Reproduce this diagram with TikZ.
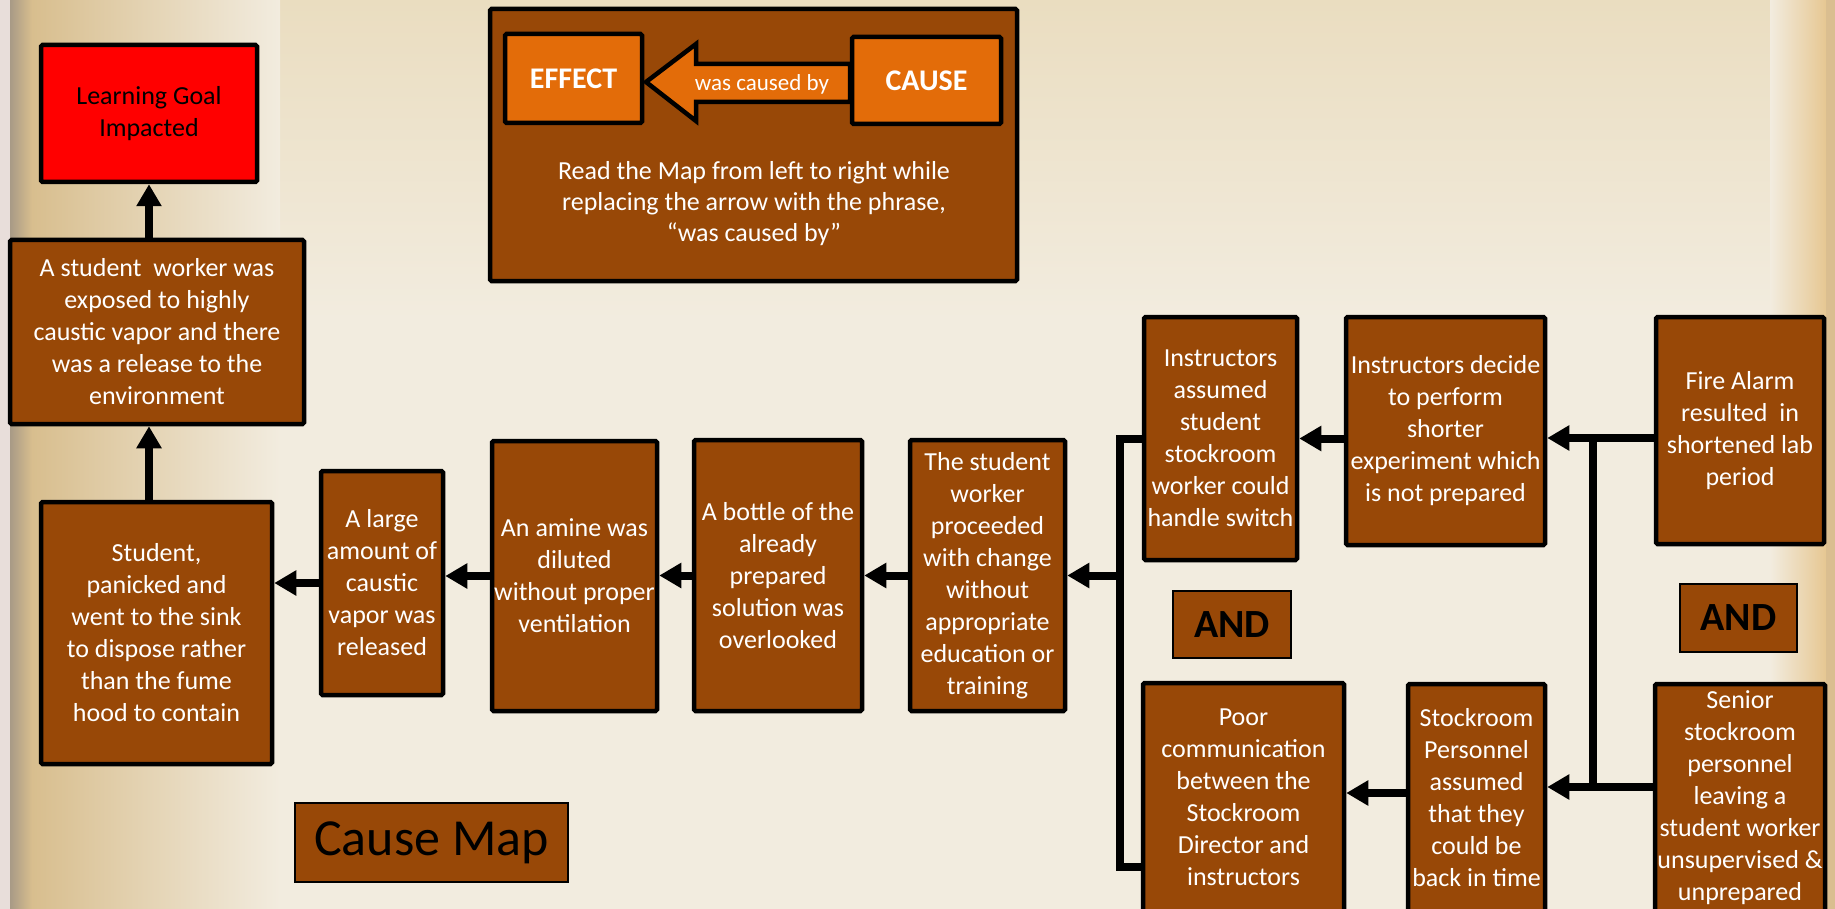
\documentclass[tikz,border=0pt]{standalone}
\usepackage{fontspec}
\setmainfont{Carlito}
\usetikzlibrary{arrows.meta}
\definecolor{boxbrown}{HTML}{984807}
\definecolor{boxorange}{HTML}{E36C09}
\definecolor{bgbase}{HTML}{F2ECDF}
\definecolor{bgtop}{HTML}{EADDC0}
\definecolor{bgtan}{HTML}{D8BE8E}
\definecolor{bggrey}{HTML}{A89A86}
\definecolor{bgpink}{HTML}{E8DEDA}
\definecolor{bggold}{HTML}{E6C792}
\tikzset{
  cbox/.style={draw=black, line width=4.5pt, fill=boxbrown, text=white, align=center,
    inner sep=0pt, rounded corners=1.5pt, font=\fontsize{26}{32}\selectfont},
  thinbox/.style={draw=black, line width=2pt, fill=boxbrown, text=black, align=center, inner sep=0pt},
  link/.style={draw=black, line width=8pt, line join=miter},
  arr/.style={link, -{Triangle[length=22pt,width=24pt]}},
}
\begin{document}
\begin{tikzpicture}[x=1pt,y=-1pt]
\useasboundingbox (0,0) rectangle (1835,909);
\clip (0,0) rectangle (1835,909);
% background
\fill[bgbase] (0,0) rectangle (1835,909);
\shade[top color=bgtop, bottom color=bgbase] (0,0) rectangle (1835,320);
\fill[bgpink] (0,0) rectangle (10,909);
\shade[left color=bggrey, right color=bgtan] (10,0) rectangle (32,909);
\shade[left color=bgtan, right color=bgbase] (32,0) rectangle (280,909);
\shade[left color=bgbase, right color=bggold] (1770,0) rectangle (1826,909);
\fill[bggold!80!bggrey] (1826,0) rectangle (1835,909);

% legend
\node[cbox, minimum width=527pt, minimum height=272pt] (legend) at (753.5,145) {};
\node[text=white, align=center, font=\fontsize{26}{31}\selectfont] (legtxt) at (754,204)
  {Read the Map from left to right while\\replacing the arrow with the phrase,\\“was caused by”};
\node[cbox, fill=boxorange, minimum width=137pt, minimum height=89pt, font=\bfseries\fontsize{30}{36}\selectfont] (effect) at (573.5,78.5) {EFFECT};
\draw[black, line width=4.5pt, line join=miter, fill=boxorange]
  (646,82) -- (696,44) -- (696,64) -- (850,64) -- (850,102) -- (696,102) -- (696,121) -- cycle;
\node[cbox, fill=boxorange, minimum width=149pt, minimum height=87pt, font=\bfseries\fontsize{30}{36}\selectfont] (cause) at (926.5,80.5) {CAUSE};
\node[text=white, font=\fontsize{23}{28}\selectfont] (wcb) at (762,84) {was caused by};

% main boxes
\node[cbox, fill=red, text=black, minimum width=216pt, minimum height=137pt, font=\fontsize{26}{32}\selectfont] (goal) at (149,113.5)
  {Learning Goal\\Impacted};
\node[cbox, minimum width=294pt, minimum height=184pt] (exposed) at (157,332)
  {A student\ \ worker was\\exposed to highly\\caustic vapor and there\\was a release to the\\environment};
\node[cbox, minimum width=231pt, minimum height=262pt] (panicked) at (156.5,633)
  {Student,\\panicked and\\went to the sink\\to dispose rather\\than the fume\\hood to contain};
\node[cbox, minimum width=122pt, minimum height=224pt] (large) at (382,583)
  {A large\\amount of\\caustic\\vapor was\\released};
\node[cbox, minimum width=165pt, minimum height=270pt] (amine) at (574.5,576)
  {An amine was\\diluted\\without proper\\ventilation};
\node[cbox, minimum width=168pt, minimum height=271pt] (bottle) at (778,575.5)
  {A bottle of the\\already\\prepared\\solution was\\overlooked};
\node[cbox, minimum width=155pt, minimum height=271pt] (proceeded) at (987.5,575.5)
  {The student\\worker\\proceeded\\with change\\without\\appropriate\\education or\\training};
\node[cbox, minimum width=153pt, minimum height=243pt] (assumed) at (1220.5,438.5)
  {Instructors\\assumed\\student\\stockroom\\worker could\\handle switch};
\node[cbox, minimum width=199pt, minimum height=228pt] (decide) at (1445.5,431)
  {Instructors decide\\to perform\\shorter\\experiment which\\is not prepared};
\node[cbox, minimum width=168pt, minimum height=227pt] (fire) at (1740,430.5)
  {Fire Alarm\\resulted\ \ in\\shortened lab\\period};
\node[cbox, minimum width=201pt, minimum height=229pt] (poor) at (1243.5,797.5)
  {Poor\\communication\\between the\\Stockroom\\Director and\\instructors};
\node[cbox, minimum width=137pt, minimum height=228pt] (personnel) at (1476.5,798)
  {Stockroom\\Personnel\\assumed\\that they\\could be\\back in time};
\node[cbox, minimum width=170pt, minimum height=228pt] (senior) at (1740,798)
  {Senior\\stockroom\\personnel\\leaving a\\student worker\\unsupervised \&\\unprepared};

\node[thinbox, minimum width=118pt, minimum height=67pt, font=\bfseries\fontsize{40}{48}\selectfont] (andL) at (1232,624.5) {AND};
\node[thinbox, minimum width=117pt, minimum height=68pt, font=\bfseries\fontsize{40}{48}\selectfont] (andR) at (1738.5,618) {AND};
\node[thinbox, minimum width=273pt, minimum height=79pt, font=\fontsize{52}{60}\selectfont] (causemap) at (431.5,842.5) {Cause Map};

% connectors
\coordinate (vx) at (149,0);
\draw[arr] (vx |- exposed.north) -- (vx |- goal.south);
\draw[arr] (vx |- panicked.north) -- (vx |- exposed.south);
\draw[arr] (large.west) -- (large.west -| panicked.east);
\draw[arr] (amine.west) -- (amine.west -| large.east);
\draw[arr] (bottle.west) -- (bottle.west -| amine.east);
\draw[arr] (proceeded.west) -- (proceeded.west -| bottle.east);

\coordinate (bl1) at (1120,438.5);
\coordinate (bl2) at (1120,867);
\draw[link] (assumed.west) -- (bl1) -- (bl2) -- (bl2 -| poor.west);
\draw[arr] (bl1 |- proceeded.east) -- (proceeded.east);
\draw[arr] (decide.west |- assumed.east) -- (assumed.east);

\coordinate (br1) at (1593,438);
\coordinate (br2) at (1593,787);
\draw[link] (fire.west |- br1) -- (br1) -- (br2) -- (senior.west |- br2);
\draw[arr] (br1) -- (br1 -| decide.east);
\draw[arr] (br2) -- (br2 -| personnel.east);
\coordinate (pp) at (1400,793);
\draw[arr] (pp -| personnel.west) -- (pp -| poor.east);
\end{tikzpicture}
\end{document}
